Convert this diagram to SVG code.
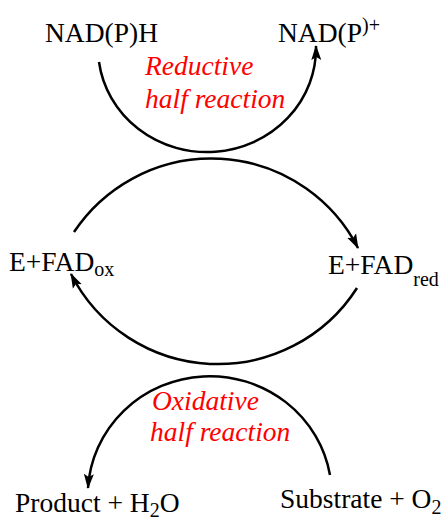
<svg xmlns="http://www.w3.org/2000/svg" width="444" height="520" viewBox="0 0 444 520">
<style>
.t{font-family:"Liberation Serif","Times New Roman",serif;font-size:27.5px;fill:#000}
.r{font-family:"Liberation Serif","Times New Roman",serif;font-size:27.5px;font-style:italic;fill:#ff0000}
.s{font-size:20px}
.c{fill:none;stroke:#000;stroke-width:2.5}
</style>
<defs>
<marker id="ah" markerUnits="userSpaceOnUse" markerWidth="16" markerHeight="12" viewBox="0 0 16 12" refX="14" refY="6" orient="auto">
<path d="M0,1 L15,6 L0,11 L3,6 z" fill="#000"/>
</marker>
</defs>
<g id="connectors">
<path class="c" d="M99,62 A109 104 0 0 0 316,46" marker-end="url(#ah)"/>
<path class="c" d="M74,232 A165 165 0 0 1 358,248" marker-end="url(#ah)"/>
<path class="c" d="M357,288 A165 165 0 0 1 71,274" marker-end="url(#ah)"/>
<path class="c" d="M330,475 A122 119 0 0 0 88,488" marker-end="url(#ah)"/>
</g>
<g id="nadph"><text class="t" x="45" y="42">NAD(P)H</text></g>
<g id="nadp"><text class="t" x="278" y="42">NAD(P<tspan class="s" dy="-10">)+</tspan></text></g>
<g id="reductive"><text class="r" x="145" y="75">Reductive</text><text class="r" x="145" y="108">half reaction</text></g>
<g id="fadox"><text class="t" x="9" y="271">E+FAD<tspan class="s" dy="5">ox</tspan></text></g>
<g id="fadred"><text class="t" x="328" y="274">E+FAD<tspan class="s" dy="12">red</tspan></text></g>
<g id="oxidative"><text class="r" x="152" y="410">Oxidative</text><text class="r" x="150" y="441">half reaction</text></g>
<g id="product"><text class="t" x="15" y="512">Product + H<tspan class="s" dy="5">2</tspan><tspan dy="-5">O</tspan></text></g>
<g id="substrate"><text class="t" x="280" y="508">Substrate + O<tspan class="s" dy="6">2</tspan></text></g>
</svg>
